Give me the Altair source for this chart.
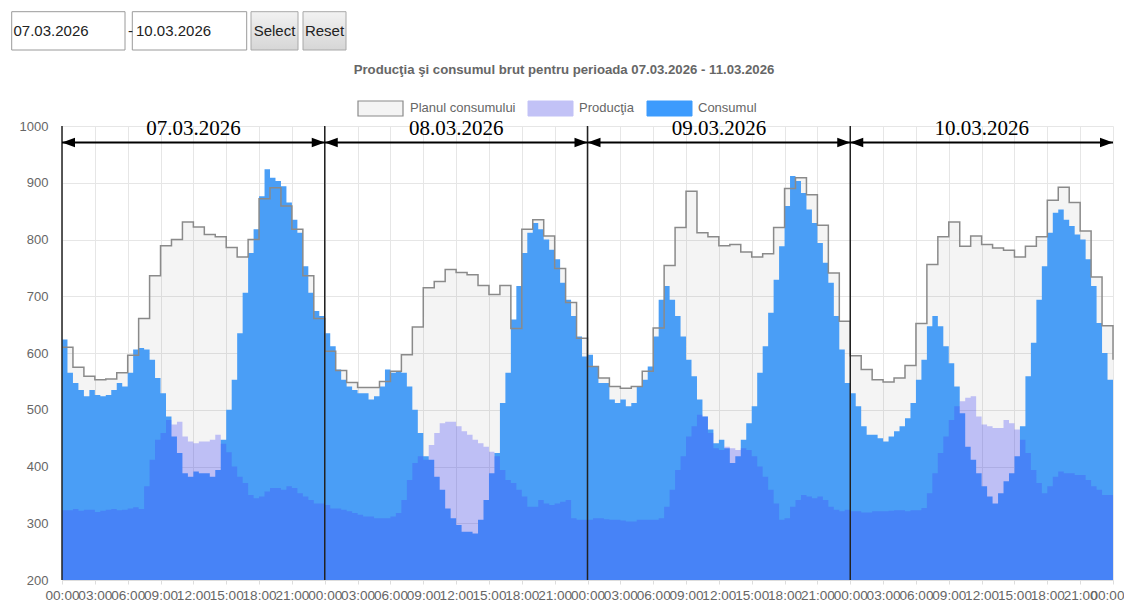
import altair as alt
import pandas as pd

# ---------------- data ----------------
days = ["07.03.2026", "08.03.2026", "09.03.2026", "10.03.2026"]

# hourly consumption plan (stepped), one list per day
plan_d1 = [610, 575, 559, 553, 554, 565, 596, 661, 736, 789, 800, 831, 822, 809, 805, 786, 769, 800, 872, 891, 859, 818, 736, 661]
plan_d2 = [603, 569, 548, 539, 539, 550, 568, 597, 646, 715, 726, 747, 742, 738, 719, 703, 719, 643, 818, 835, 806, 749, 689, 626]
plan_d3 = [576, 556, 541, 538, 541, 568, 644, 754, 821, 885, 812, 805, 789, 791, 778, 769, 775, 821, 890, 909, 879, 825, 741, 656]
plan_d4 = [595, 571, 553, 549, 556, 578, 652, 756, 805, 831, 788, 806, 791, 785, 781, 769, 788, 805, 869, 892, 865, 815, 734, 648]
plan_end = 588

# half-hourly consumption
cons_d1 = [624, 565, 547, 535, 524, 535, 526, 524, 526, 535, 547, 541, 565, 606, 609, 606, 588, 556, 529, 488,
           453, 424, 388, 382, 391, 388, 388, 382, 394, 447, 500, 553, 635, 706, 776, 818, 876, 924, 909, 903,
           894, 865, 835, 812, 753, 706, 674, 665]
cons_d2 = [635, 612, 571, 553, 541, 535, 529, 529, 518, 524, 541, 571, 565, 568, 565, 541, 500, 459, 418, 412,
           382, 359, 326, 309, 297, 285, 285, 282, 306, 341, 388, 424, 512, 565, 659, 718, 776, 812, 829, 818,
           800, 782, 765, 724, 694, 665, 629, 594]
cons_d3 = [597, 576, 547, 547, 518, 512, 518, 506, 512, 541, 553, 576, 629, 694, 718, 694, 665, 629, 588, 559,
           518, 488, 465, 441, 447, 432, 406, 418, 447, 476, 506, 565, 612, 671, 729, 788, 859, 912, 903, 882,
           853, 829, 794, 759, 724, 665, 606, 547]
cons_d4 = [529, 506, 471, 456, 456, 450, 444, 453, 462, 471, 485, 512, 553, 588, 647, 665, 647, 612, 582, 541,
           494, 435, 412, 388, 365, 347, 335, 353, 374, 388, 418, 471, 559, 618, 694, 753, 812, 847, 853, 835,
           824, 809, 800, 765, 718, 653, 600, 553]

# half-hourly production
prod_d1 = [323, 323, 325, 322, 324, 324, 320, 322, 324, 325, 323, 324, 326, 328, 325, 365, 412, 447, 459, 482,
           474, 479, 453, 444, 441, 444, 444, 447, 456, 440, 425, 400, 382, 371, 350, 344, 347, 356, 362, 362,
           359, 365, 362, 353, 347, 341, 335, 335]
prod_d2 = [332, 326, 326, 324, 321, 318, 315, 312, 312, 309, 309, 309, 312, 318, 341, 376, 406, 418, 412, 438,
           459, 476, 479, 479, 471, 462, 456, 447, 441, 435, 426, 418, 394, 376, 371, 359, 347, 329, 329, 341,
           335, 332, 335, 338, 341, 309, 306, 306]
prod_d3 = [306, 309, 309, 307, 306, 306, 305, 303, 303, 306, 306, 306, 306, 309, 329, 359, 394, 418, 453, 471,
           491, 488, 459, 432, 429, 435, 432, 429, 432, 429, 418, 400, 382, 359, 335, 306, 309, 329, 341, 350,
           347, 344, 347, 341, 329, 324, 321, 324]
prod_d4 = [321, 321, 319, 319, 321, 321, 321, 322, 323, 323, 321, 323, 323, 327, 353, 388, 424, 453, 482, 506,
           515, 521, 524, 488, 474, 471, 468, 468, 482, 476, 465, 447, 424, 394, 371, 353, 365, 382, 391, 388,
           388, 385, 385, 376, 365, 359, 350, 350]

series_names = ["Planul consumului", "Producţia", "Consumul"]
title_text = "Producţia şi consumul brut pentru perioada 07.03.2026 - 11.03.2026"
date_from = "07.03.2026"
date_to = "10.03.2026"

# ---------------- tables ----------------
plan_all = plan_d1 + plan_d2 + plan_d3 + plan_d4
cons_all = cons_d1 + cons_d2 + cons_d3 + cons_d4
prod_all = prod_d1 + prod_d2 + prod_d3 + prod_d4

plan_df = pd.DataFrame({"t": list(range(len(plan_all))) + [len(plan_all)],
                        "v": plan_all + [plan_end]})
n = len(cons_all)
cp_df = pd.DataFrame({"t": [i * 0.5 for i in range(n)] + [n * 0.5],
                      "cons": cons_all + [cons_all[-1]],
                      "prod": prod_all + [prod_all[-1]]})
day_df = pd.DataFrame({"day": days,
                       "t": [24 * i for i in range(len(days))],
                       "t_end": [24 * (i + 1) for i in range(len(days))],
                       "mid": [24 * i + 12 for i in range(len(days))]})

# ---------------- styling ----------------
FONT = "Liberation Sans"
GRID = "#e6e6e6"
C_PLAN_LINE = "#8a8a8a"
C_CONS = "#4a9ef6"
C_PROD = "#4347f7"
T_END = 24 * len(days)

xscale = alt.Scale(domain=[0, T_END], nice=False, zero=False)
yscale = alt.Scale(domain=[200, 1000], nice=False, zero=False)
xaxis = alt.Axis(values=list(range(0, T_END + 1, 3)),
                 labelExpr="(datum.value % 24 < 10 ? '0' : '') + (datum.value % 24) + ':00'",
                 labelAlign={"condition": {"test": f"datum.value == {T_END}", "value": "right"},
                             "value": "center"},
                 labelOffset={"condition": {"test": f"datum.value == {T_END}", "value": 11},
                              "value": 0},
                 labelOverlap=False, labelColor="#666", labelFont=FONT, labelFontSize=13.6,
                 grid=True, gridColor=GRID, tickColor="#ddd", tickSize=4, labelPadding=4,
                 domainColor="#ddd", title=None, labelFlush=False)
yaxis = alt.Axis(values=list(range(200, 1001, 100)), format="d", labelColor="#666", labelFont=FONT,
                 labelFontSize=13, grid=True, gridColor=GRID, ticks=False, domain=False,
                 labelPadding=14, title=None)


def X(field):
    return alt.X(field, type="quantitative", scale=xscale, axis=xaxis)


def Y(field):
    return alt.Y(field, type="quantitative", scale=yscale, axis=yaxis)


base_cp = alt.Chart(cp_df)
base_plan = alt.Chart(plan_df)

plan_fill = base_plan.mark_area(interpolate="step-after", color="#000", opacity=0.045).encode(
    x=X("t"), y=Y("v"), y2=alt.datum(200))
cons_area = base_cp.mark_area(interpolate="step-after", color=C_CONS, opacity=1).encode(
    x=X("t"), y=Y("cons"), y2=alt.datum(200))
prod_area = base_cp.mark_area(interpolate="step-after", color=C_PROD, opacity=0.3).encode(
    x=X("t"), y=Y("prod"), y2=alt.datum(200))
plan_line = base_plan.mark_line(interpolate="step-after", color=C_PLAN_LINE, strokeWidth=1.5).encode(
    x=X("t"), y=Y("v"))

base_day = alt.Chart(day_df)
day_lines = base_day.mark_rule(color="#222", strokeWidth=1.5).encode(
    x=X("t"), y=alt.datum(1000), y2=alt.datum(200))
arrow_y = 971
arrow_line = base_day.mark_rule(color="#000", strokeWidth=2).encode(
    x=X("t"), x2="t_end", y=alt.datum(arrow_y))
head_l = base_day.mark_point(shape="M0,0 L2,-0.72 L2,0.72 Z", size=169, filled=True,
                             color="#000", opacity=1).encode(x=X("t"), y=alt.datum(arrow_y))
head_r = base_day.mark_point(shape="M0,0 L-2,-0.72 L-2,0.72 Z", size=169, filled=True,
                             color="#000", opacity=1).encode(x=X("t_end"), y=alt.datum(arrow_y))
day_text = base_day.mark_text(font="Liberation Serif", fontSize=21, color="#000",
                              baseline="alphabetic", align="center").encode(
    x=X("mid"), y=alt.datum(984), text="day:N")

# ---------------- decorations (page controls, title, legend) ----------------
one = pd.DataFrame({"k": [0]})


def box(x1, x2, y1, y2, fill, stroke, sw=1.0):
    return alt.Chart(one).mark_rect(fill=fill, stroke=stroke, strokeWidth=sw).encode(
        x=alt.value(x1), x2=alt.value(x2), y=alt.value(y1), y2=alt.value(y2))


def label(x, y, text, **kw):
    return alt.Chart(one).mark_text(**kw).encode(
        x=alt.value(x), y=alt.value(y), text=alt.value(text))


btn_fill = alt.Gradient(gradient="linear", x1=0, x2=0, y1=0, y2=1,
                        stops=[alt.GradientStop(color="#f2f2f2", offset=0),
                               alt.GradientStop(color="#d6d6d6", offset=1)])

decor = [
    box(-50.3, 63, -114.3, -76, "#ffffff", "#9a9a9a"),
    box(70.3, 184.7, -114.3, -76, "#ffffff", "#9a9a9a"),
    box(189, 236, -114.3, -76, btn_fill, "#a8a8a8"),
    box(241, 284, -114.3, -76, btn_fill, "#a8a8a8"),
    label(-48.5, -95, date_from, font=FONT, fontSize=15, color="#222", align="left", baseline="middle"),
    label(74, -95, date_to, font=FONT, fontSize=15, color="#222", align="left", baseline="middle"),
    label(66, -95, "-", font=FONT, fontSize=15, color="#222", align="left", baseline="middle"),
    label(212.5, -95, "Select", font=FONT, fontSize=15, color="#222", align="center", baseline="middle"),
    label(262.5, -95, "Reset", font=FONT, fontSize=15, color="#222", align="center", baseline="middle"),
    label(502, -56, title_text, font=FONT, fontSize=13.2, fontWeight="bold", color="#666",
          align="center", baseline="middle"),
    # legend
    box(296, 341, -25, -10, "#f4f4f4", "#8a8a8a", 1.2),
    label(348, -18, series_names[0], font=FONT, fontSize=13, color="#666", align="left", baseline="middle"),
    box(466, 511, -25, -10, "#c2c2f6", "#c2c2f6", 1),
    label(517, -18, series_names[1], font=FONT, fontSize=13, color="#666", align="left", baseline="middle"),
    box(585, 630, -25, -10, "#3d9bfd", "#3d9bfd", 1),
    label(636, -18, series_names[2], font=FONT, fontSize=13, color="#666", align="left", baseline="middle"),
]

chart = alt.layer(
    plan_fill, cons_area, prod_area, plan_line,
    day_lines, arrow_line, head_l, head_r, day_text,
    *decor
).properties(
    width=1051, height=454,
    padding={"left": 54, "top": 118, "right": 11, "bottom": 22},
    autosize=alt.AutoSizeParams(type="none"),
).configure_view(stroke=None)

chart.save("out.html", embed_options={"renderer": "svg", "actions": False})
